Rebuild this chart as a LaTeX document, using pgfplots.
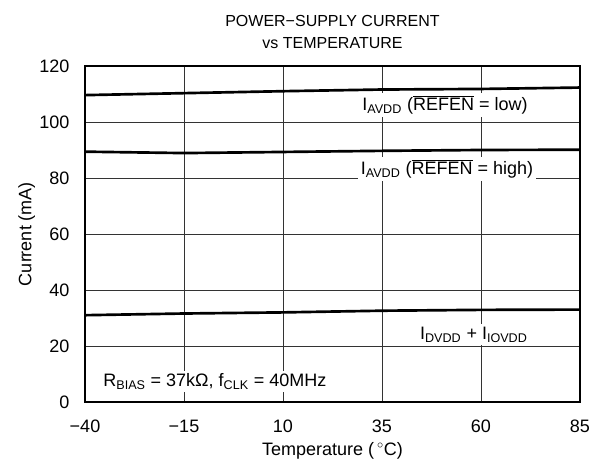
\documentclass[border=0pt]{standalone}
\usepackage{pgfplots}
\pgfplotsset{compat=1.18}
\usepackage{fontspec}
\setmainfont{Liberation Sans}
\begin{document}
\fontsize{13.5pt}{16pt}\selectfont
\begin{tikzpicture}
\useasboundingbox (0,0) rectangle (447.75pt,350.25pt);
\begin{axis}[
  at={(63.75pt,48.75pt)}, anchor=south west,
  scale only axis, width=371.25pt, height=252pt,
  xmin=-40, xmax=85, ymin=0, ymax=120,
  xtick={-40,-15,10,35,60,85},
  xticklabels={−40,−15,10,35,60,85},
  ytick={0,20,40,60,80,100,120},
  /pgf/number format/assume math mode=true,
  major tick length=0pt,
  grid=major,
  major grid style={black!80, line width=0.5pt},
  axis line style={line width=1.8pt},
  tick label style={font=\fontsize{13.5pt}{16pt}\selectfont},
  xlabel={Temperature (\,$^{\circ}$C)},
  ylabel={Current (mA)},
  label style={font=\fontsize{13.5pt}{16pt}\selectfont},
  title={POWER−SUPPLY CURRENT\\vs TEMPERATURE},
  title style={align=center, font=\fontsize{12pt}{16.5pt}\selectfont, yshift=2pt},
  xticklabel style={yshift=-9pt},
  yticklabel style={xshift=-7pt},
  xlabel style={yshift=2pt},
  ylabel style={yshift=-6pt},
  clip=false,
]
\addplot[black, line width=2pt] coordinates {(-40,109.6) (-15,110.3) (10,111.0) (35,111.6) (60,111.8) (85,112.3)};
\addplot[black, line width=2pt] coordinates {(-40,89.4) (-15,88.9) (10,89.3) (35,89.7) (60,90.0) (85,90.1)};
\addplot[black, line width=2pt] coordinates {(-40,31.0) (-15,31.6) (10,32.0) (35,32.6) (60,32.9) (85,33.0)};
\node[fill=white, inner sep=2pt] at (axis cs:50.9,106) {I\textsubscript{AVDD} ($\overline{\mbox{REFEN}}$ = low)};
\node[fill=white, inner sep=2pt] at (axis cs:51.4,83.2) {I\textsubscript{AVDD} ($\overline{\mbox{REFEN}}$ = high)};
\node[fill=white, inner sep=2pt] at (axis cs:58.2,24) {I\textsubscript{DVDD} + I\textsubscript{IOVDD}};
\node[fill=white, inner sep=2pt] at (axis cs:-7.2,7.3) {R\textsubscript{BIAS} = 37kΩ, f\textsubscript{CLK} = 40MHz};
\end{axis}
\end{tikzpicture}
\end{document}
